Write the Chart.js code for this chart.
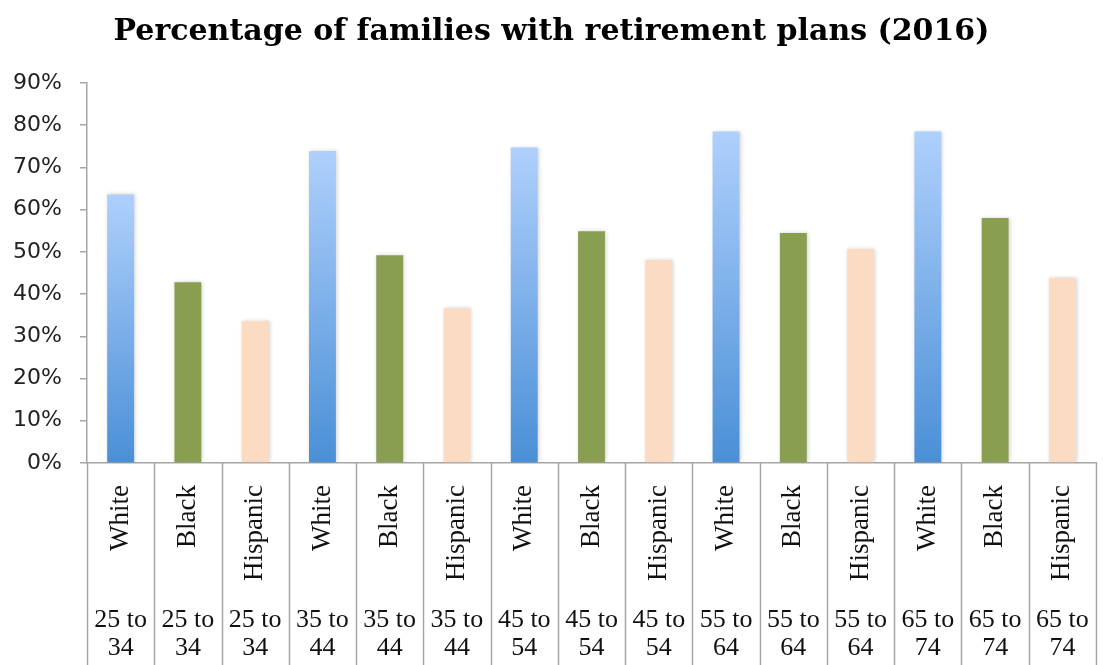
<!DOCTYPE html>
<html>
<head>
<meta charset="utf-8">
<title>Percentage of families with retirement plans (2016)</title>
<script src="https://cdn.jsdelivr.net/npm/chart.js@4/dist/chart.umd.min.js"></script>
<style>
  html, body { margin: 0; padding: 0; background: #fff; }
  #wrap { width: 1109px; height: 665px; }
</style>
</head>
<body>
<div id="wrap"><canvas id="retirementChart"></canvas></div>
<script>
// survey groups, in the order they appear on the x axis
var races = ['White', 'Black', 'Hispanic', 'White', 'Black', 'Hispanic', 'White', 'Black', 'Hispanic',
             'White', 'Black', 'Hispanic', 'White', 'Black', 'Hispanic'];
var ageGroups = ['25 to 34', '25 to 34', '25 to 34', '35 to 44', '35 to 44', '35 to 44', '45 to 54', '45 to 54', '45 to 54',
                 '55 to 64', '55 to 64', '55 to 64', '65 to 74', '65 to 74', '65 to 74'];
// share of families with a retirement plan, percent
var withPlan = [63.6, 42.8, 33.6, 73.9, 49.2, 36.6, 74.7, 54.9, 48.1, 78.5, 54.5, 50.7, 78.5, 58.0, 43.9];

var yTicks = [0, 10, 20, 30, 40, 50, 60, 70, 80, 90];

var greenBar = '#8a9e51';
var peachBar = '#fbdcc3';

// "25 to 34" -> ["25 to", "34"]
var ageTickLabels = ageGroups.map(function(a) {
  var i = a.lastIndexOf(' ');
  return [a.slice(0, i), a.slice(i + 1)];
});

function barColor(ctx) {
  var race = races[ctx.dataIndex];
  if (race === 'Black') return greenBar;
  if (race === 'Hispanic') return peachBar;
  // white bars fade from light blue at the top to a deeper blue at the base
  var chart = ctx.chart;
  if (!chart.chartArea) return '#7aaee8';
  var y = chart.scales.y;
  var top = y.getPixelForValue(withPlan[ctx.dataIndex]);
  var bottom = y.getPixelForValue(0);
  var g = chart.ctx.createLinearGradient(0, top, 0, bottom);
  g.addColorStop(0, '#afd0fc');
  g.addColorStop(1, '#4a8fd6');
  return g;
}

// soft shadow under the bars
var barShadow = {
  id: 'barShadow',
  beforeDatasetsDraw: function(chart) {
    var c = chart.ctx;
    c.save();
    c.shadowColor = 'rgba(0,0,0,0.18)';
    c.shadowBlur = 4;
    c.shadowOffsetX = 1;
    c.shadowOffsetY = 0;
  },
  afterDatasetsDraw: function(chart) {
    chart.ctx.restore();
  }
};

// vertical cell lines under the x axis, between categories
var cellLines = {
  id: 'cellLines',
  afterDraw: function(chart) {
    var x = chart.scales.x;
    var area = chart.chartArea;
    var n = races.length;
    var step = (area.right - area.left) / n;
    var c = chart.ctx;
    c.save();
    c.strokeStyle = '#a6a6a6';
    c.lineWidth = 1.5;
    for (var i = 0; i <= n; i++) {
      var px = Math.round(x.getPixelForValue(0) - step / 2 + i * step) + 0.5;
      c.beginPath();
      c.moveTo(px, area.bottom);
      c.lineTo(px, chart.height);
      c.stroke();
    }
    c.restore();
  }
};

var chartdata = {
  labels: races,
  datasets: [{
    label: 'With retirement plan',
    data: withPlan,
    backgroundColor: barColor,
    borderWidth: 0,
    barPercentage: 0.4,
    categoryPercentage: 1.0,
    xAxisID: 'x'
  }]
};

new Chart(document.getElementById('retirementChart'), {
  type: 'bar',
  data: chartdata,
  options: {
    responsive: true,
    maintainAspectRatio: false,
    animation: false,
    layout: { padding: { left: 0, right: 6, top: 0, bottom: 0 } },
    plugins: {
      legend: { display: false },
      tooltip: { enabled: false },
      title: {
        display: true,
        text: 'Percentage of families with retirement plans (2016)',
        color: '#000',
        font: { family: 'DejaVu Serif', size: 30, weight: 'bold' },
        padding: { top: 14, bottom: 33 }
      }
    },
    scales: {
      y: {
        min: 0,
        max: 90,
        afterBuildTicks: function(scale) {
          scale.ticks = yTicks.map(function(v) { return { value: v }; });
        },
        afterFit: function(scale) { scale.width = 87; },
        border: { display: true, color: '#a6a6a6', width: 1.5 },
        grid: { drawOnChartArea: false, drawTicks: true, tickLength: 7, color: '#a6a6a6', lineWidth: 1.5 },
        ticks: {
          padding: 18,
          color: '#222',
          font: { family: 'DejaVu Sans', size: 22 },
          callback: function(v) { return v + '%'; }
        }
      },
      x: {
        type: 'category',
        position: 'bottom',
        weight: 0,
        afterFit: function(scale) { scale.height = 130; },
        border: { display: true, color: '#a6a6a6', width: 1.5 },
        grid: { display: false },
        ticks: {
          autoSkip: false,
          minRotation: 90,
          maxRotation: 90,
          padding: 14,
          color: '#111',
          font: { family: 'Liberation Serif', size: 27 }
        }
      },
      x2: {
        type: 'category',
        position: 'bottom',
        weight: 1,
        labels: ageTickLabels,
        afterFit: function(scale) { scale.height = 72; },
        border: { display: false },
        grid: { display: false },
        ticks: {
          autoSkip: false,
          minRotation: 0,
          maxRotation: 0,
          padding: 5,
          color: '#111',
          font: { family: 'Liberation Serif', size: 26, lineHeight: 1.08 }
        }
      }
    }
  },
  plugins: [barShadow, cellLines]
});
</script>
</body>
</html>
